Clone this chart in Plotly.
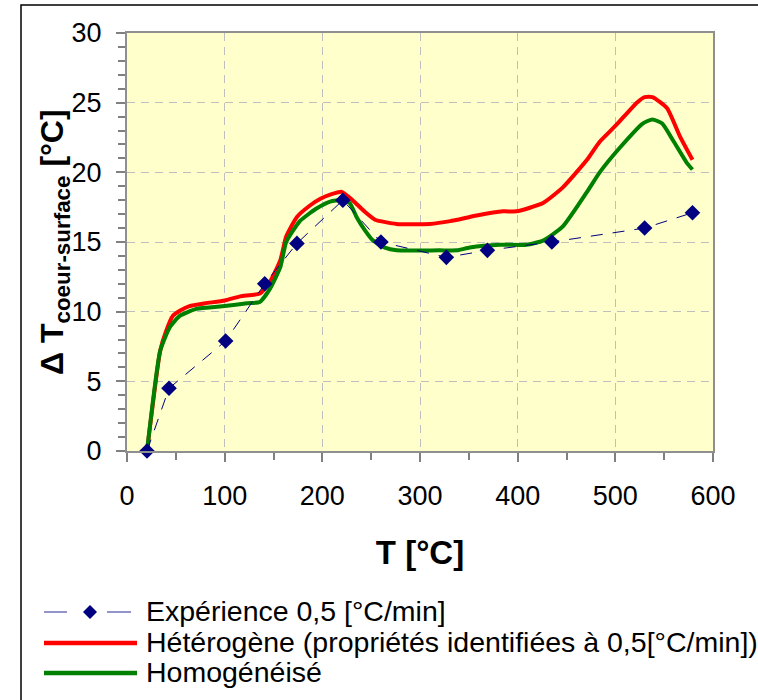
import plotly.graph_objects as go

# ---------------- data ----------------
exp_T = [20.5, 43, 101, 141, 174, 221, 260, 327, 369, 435, 530, 579]
exp_dT = [0, 4.5, 7.9, 12.0, 14.9, 18.0, 15.0, 13.9, 14.4, 15.0, 16.0, 17.1]

het_T = [20.5, 34, 40, 47, 55, 64, 80, 100, 116, 136, 146, 157, 163, 174, 187, 198, 208,
         220, 231, 243, 254, 276, 310, 331, 358, 385, 399, 426, 446, 471, 484, 501, 522,
         530, 538, 553, 566, 579]
het_dT = [0, 7.2, 8.6, 9.7, 10.1, 10.4, 10.6, 10.8, 11.1, 11.3, 12.1, 13.7, 15.4, 16.8, 17.6,
          18.1, 18.4, 18.6, 18.0, 17.2, 16.6, 16.3, 16.3, 16.5, 16.9, 17.2, 17.2, 17.8, 18.9,
          20.9, 22.2, 23.4, 25.0, 25.4, 25.4, 24.6, 22.6, 20.9]

hom_T = [20.5, 34, 44, 54, 71, 100, 123, 136, 146, 157, 163, 177, 194, 208, 220, 228, 235,
         244, 252, 264, 276, 320, 338, 351, 382, 409, 426, 446, 471, 484, 505, 528, 538, 548,
         559, 573, 579]
hom_dT = [0, 7.2, 8.9, 9.7, 10.2, 10.4, 10.6, 10.7, 11.6, 13.2, 15.0, 16.5, 17.4, 17.9, 18.0,
          17.8, 16.8, 15.8, 15.1, 14.6, 14.4, 14.4, 14.4, 14.6, 14.8, 14.8, 15.1, 16.1, 18.6,
          20.0, 21.8, 23.5, 23.8, 23.5, 22.3, 20.7, 20.2]

legend_labels = ["Expérience 0,5 [°C/min]",
                 "Hétérogène (propriétés identifiées à 0,5[°C/min])",
                 "Homogénéisé"]
x_title = "T [°C]"
y_title = "Δ T<sub>coeur-surface</sub> [°C]"

# ---------------- styles ----------------
NAVY = "#000080"
RED = "#FF0000"
GREEN = "#008000"
FONT = "Arial, Liberation Sans, sans-serif"

W, H = 758, 700
ML, MR, MT, MB = 127, 45, 33, 249
PW, PH = W - ML - MR, H - MT - MB


def px(x):
    return (x - ML) / PW


def py(y):
    return (H - MB - y) / PH


fig = go.Figure()
fig.add_trace(go.Scatter(x=het_T, y=het_dT, mode="lines", name=legend_labels[1],
                         line=dict(color=RED, width=4, shape="spline", smoothing=0.5),
                         showlegend=False))
fig.add_trace(go.Scatter(x=hom_T, y=hom_dT, mode="lines", name=legend_labels[2],
                         line=dict(color=GREEN, width=4, shape="spline", smoothing=0.5),
                         showlegend=False))
fig.add_trace(go.Scatter(x=exp_T, y=exp_dT, mode="lines+markers", name=legend_labels[0],
                         line=dict(color=NAVY, width=1, dash="12px,10px"),
                         marker=dict(symbol="diamond", size=12, color=NAVY),
                         cliponaxis=False, showlegend=False))

axis_common = dict(
    showline=True, mirror=True, linecolor="#8f8f8f", linewidth=2,
    showgrid=True, gridcolor="#BEBEBE", gridwidth=1, griddash="8px,6px",
    zeroline=False, ticks="outside", ticklen=9, tickcolor="#808080", tickwidth=1.5,
    tickfont=dict(family=FONT, size=27, color="black"),
)

fig.update_layout(
    width=W, height=H,
    margin=dict(l=ML, r=MR, t=MT, b=MB),
    paper_bgcolor="white", plot_bgcolor="#FFFFCC",
    font=dict(family=FONT, color="black"),
    xaxis=dict(range=[0, 600], dtick=100, ticklabelstandoff=11,
               minor=dict(dtick=50, ticks="outside", ticklen=7, tickcolor="#808080",
                          tickwidth=1.5, showgrid=False),
               title=dict(text="<b>" + x_title + "</b>",
                          font=dict(family=FONT, size=33, color="black"), standoff=30),
               **axis_common),
    yaxis=dict(range=[0, 30], dtick=5, ticklabelstandoff=9,
               minor=dict(dtick=1, ticks="outside", ticklen=7, tickcolor="#808080",
                          tickwidth=1.5, showgrid=False),
               **axis_common),
)

# y-axis title
fig.add_annotation(text="<b>" + y_title + "</b>", xref="paper", yref="paper",
                   x=px(54), y=py(242), xanchor="center", yanchor="middle",
                   textangle=-90, showarrow=False,
                   font=dict(family=FONT, size=32, color="black"))

# outer frame
fig.add_shape(type="rect", xref="paper", yref="paper",
              x0=px(21), x1=px(765), y0=py(5), y1=py(710),
              line=dict(color="black", width=1.5), fillcolor="rgba(0,0,0,0)", layer="above")

# manual legend
rows = [612, 643, 673]
lx0, lx1, tx = 44, 137, 144
# row 1: dashed line + diamond
fig.add_shape(type="line", xref="paper", yref="paper", x0=px(lx0), x1=px(67),
              y0=py(rows[0]), y1=py(rows[0]), line=dict(color="#7070B8", width=1.5))
fig.add_shape(type="line", xref="paper", yref="paper", x0=px(107), x1=px(131),
              y0=py(rows[0]), y1=py(rows[0]), line=dict(color="#7070B8", width=1.5))
cx, cy, r = 90, rows[0], 7
fig.add_shape(type="path", xref="paper", yref="paper",
              path=f"M {px(cx)},{py(cy - r)} L {px(cx + r)},{py(cy)} L {px(cx)},{py(cy + r)} "
                   f"L {px(cx - r)},{py(cy)} Z",
              fillcolor=NAVY, line=dict(color=NAVY, width=0))
for yrow, col in [(rows[1], RED), (rows[2], GREEN)]:
    fig.add_shape(type="line", xref="paper", yref="paper", x0=px(lx0), x1=px(lx1),
                  y0=py(yrow), y1=py(yrow), line=dict(color=col, width=4.5))
for yrow, lab in zip(rows, legend_labels):
    fig.add_annotation(text=lab, xref="paper", yref="paper", x=px(tx), y=py(yrow - 1),
                       xanchor="left", yanchor="middle", showarrow=False,
                       font=dict(family=FONT, size=28.5, color="black"))

fig.write_html("out.html")
